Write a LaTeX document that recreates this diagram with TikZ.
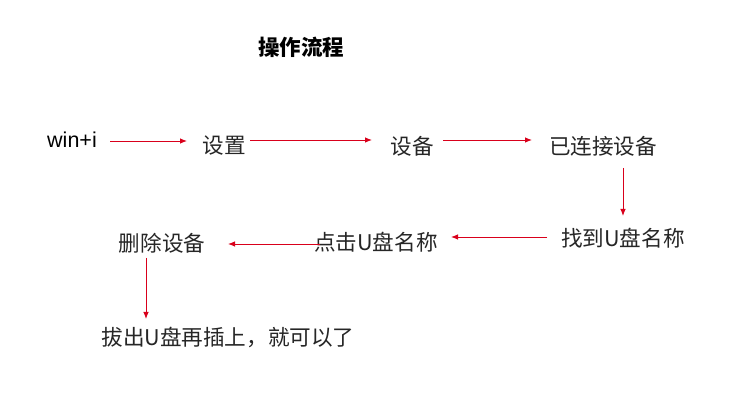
\documentclass[tikz,border=0pt]{standalone}
\usepackage{fontspec}
\setmainfont{Liberation Sans}
\newfontfamily\cjk{Noto Sans CJK SC}
\usetikzlibrary{arrows.meta}
\definecolor{arrred}{HTML}{D9001B}
\tikzset{
  lbl/.style={font=\cjk\fontsize{21.6}{24}\selectfont, text=black!85, inner sep=0pt, anchor=center},
  ttl/.style={font=\cjk\bfseries\fontsize{21.5}{24}\selectfont, inner sep=0pt},
  arr/.style={draw=arrred, line width=0.9pt, -{Latex[length=7pt,width=5.5pt]}}
}
\begin{document}
\begin{tikzpicture}[x=1pt,y=1pt]
\useasboundingbox[fill=white] (0,0) rectangle (744,417);
\node[ttl] (title) at (301,370) {操作流程};
\node[font=\fontsize{21.5}{24}\selectfont, inner sep=0pt] (win) at (72,277) {win+i};
\node[lbl] (set) at (224,271) {设置};
\node[lbl] (dev) at (412,271) {设备};
\node[lbl] (conn) at (603,271) {已连接设备};
\node[lbl] (find) at (623,179) {找到U盘名称};
\node[lbl] (click) at (376,175) {点击U盘名称};
\node[lbl] (del) at (162,174) {删除设备};
\node[lbl] (final) at (228,80) {拔出U盘再插上，就可以了};
\draw[arr] ([shift={(38,-1)}]win.center) -- ([shift={(-37,5)}]set.center);
\draw[arr] ([shift={(26,6)}]set.center) -- ([shift={(-40,6)}]dev.center);
\draw[arr] ([shift={(31,6)}]dev.center) -- ([shift={(-71,6)}]conn.center);
\draw[arr] ([shift={(20,-22)}]conn.center) -- ([shift={(0,22)}]find.center);
\draw[arr] ([shift={(-76,1)}]find.center) -- ([shift={(75,5)}]click.center);
\draw[arr] ([shift={(-56,-2)}]click.center) -- ([shift={(66,-1)}]del.center);
\draw[arr] ([shift={(-16,-15)}]del.center) -- ([shift={(-82,18)}]final.center);
\end{tikzpicture}
\end{document}
